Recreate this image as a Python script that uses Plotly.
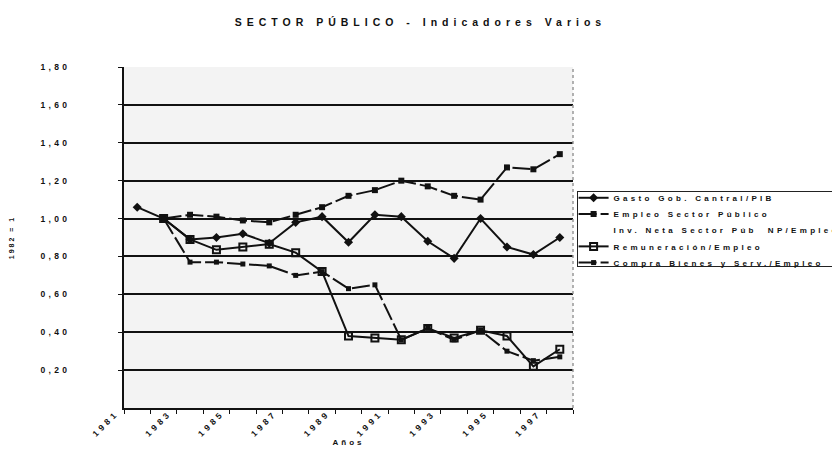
import plotly.graph_objects as go

years = list(range(1981, 1998))
gasto = [1.06, 1.00, 0.89, 0.90, 0.92, 0.87, 0.98, 1.01, 0.875, 1.02, 1.01, 0.88, 0.79, 1.00, 0.85, 0.81, 0.90]
empleo = [None, 1.00, 1.02, 1.01, 0.99, 0.98, 1.02, 1.06, 1.12, 1.15, 1.20, 1.17, 1.12, 1.10, 1.27, 1.26, 1.34]
inv_neta = [None] * 17
remuneracion = [None, 1.00, 0.89, 0.835, 0.85, 0.865, 0.82, 0.72, 0.38, 0.37, 0.36, 0.42, 0.37, 0.41, 0.38, 0.22, 0.31]
compra = [None, 1.00, 0.77, 0.77, 0.76, 0.75, 0.70, 0.72, 0.63, 0.65, 0.36, 0.42, 0.36, 0.41, 0.30, 0.25, 0.27]

series_names = ["Gasto Gob. Cantral/PIB", "Empleo Sector Público", "Inv. Neta Sector Púb  NP/Empleo",
                "Remuneración/Empleo", "Compra Bienes y Serv./Empleo"]

y_tickvals = [0.2, 0.4, 0.6, 0.8, 1.0, 1.2, 1.4, 1.6, 1.8]
y_ticktext = ["0,20", "0,40", "0,60", "0,80", "1,00", "1,20", "1,40", "1,60", "1,80"]
x_tickvals = [1981, 1983, 1985, 1987, 1989, 1991, 1993, 1995, 1997]

FONT = "Liberation Sans, Arial, sans-serif"
BLK = "#111111"

fig = go.Figure()
fig.add_trace(go.Scatter(x=years, y=gasto, name=series_names[0], mode="lines+markers",
                         line=dict(color=BLK, width=2),
                         marker=dict(symbol="diamond", size=7, color=BLK)))
fig.add_trace(go.Scatter(x=years, y=empleo, name=series_names[1], mode="lines+markers",
                         line=dict(color=BLK, width=2, dash="18px,4px"),
                         marker=dict(symbol="square", size=6, color=BLK)))
fig.add_trace(go.Scatter(x=years, y=inv_neta, name=series_names[2], mode="lines",
                         line=dict(color="rgba(0,0,0,0)", width=2)))
fig.add_trace(go.Scatter(x=years, y=remuneracion, name=series_names[3], mode="lines+markers",
                         line=dict(color=BLK, width=2),
                         marker=dict(symbol="square-open", size=7, color=BLK, line=dict(width=2, color=BLK))))
fig.add_trace(go.Scatter(x=years, y=compra, name=series_names[4], mode="lines+markers",
                         line=dict(color=BLK, width=2, dash="18px,4px"),
                         marker=dict(symbol="square", size=5, color=BLK)))

fig.update_layout(
    width=840, height=449,
    margin=dict(l=116, r=275, t=59, b=49, autoexpand=False),
    paper_bgcolor="white",
    plot_bgcolor="#f3f3f3",
    font=dict(family=FONT, color=BLK, weight="bold"),
    title=dict(text="SECTOR PÚBLICO - Indicadores Varios", x=0.491, xref="container",
               xanchor="center", y=0.968, yref="container", yanchor="middle",
               font=dict(size=10.5, family=FONT, weight="bold", color=BLK)),
    showlegend=True,
    legend=dict(x=1.008, xanchor="left", y=0.637, yanchor="top",
                bgcolor="rgba(255,255,255,0)", bordercolor="#222", borderwidth=1,
                font=dict(size=8, family=FONT, weight="bold", color=BLK),
                tracegroupgap=0),
    xaxis=dict(range=[1980.5, 1997.5], tickmode="array", tickvals=x_tickvals,
               ticktext=[str(v) for v in x_tickvals], tickangle=-45, ticks="", ticklabelshift=-21,
               ticklabelstandoff=-5,
               tickfont=dict(size=8.5, family=FONT, weight="bold"),
               showgrid=False, zeroline=False, showline=True, linecolor=BLK, linewidth=2,
               mirror=False,
               minor=dict(tickvals=[y + 0.5 for y in range(1980, 1998)], ticks="outside",
                          ticklen=4, tickcolor=BLK, tickwidth=1),
               title=dict(text="Años", standoff=12, font=dict(size=8, family=FONT, weight="bold"))),
    yaxis=dict(range=[0, 1.8], tickmode="array", tickvals=y_tickvals, ticktext=y_ticktext,
               ticks="outside", ticklen=4, tickcolor=BLK, ticklabelstandoff=46,
               tickfont=dict(size=8.5, family=FONT, weight="bold"),
               showgrid=True, gridcolor=BLK, gridwidth=2, zeroline=False,
               showline=True, linecolor=BLK, linewidth=2,
               title=dict(text="1982 = 1", standoff=40, font=dict(size=7, family=FONT, weight="bold"))),
    shapes=[dict(type="line", xref="paper", yref="paper", x0=1, x1=1, y0=0, y1=1,
                 line=dict(color="#999", width=1.5, dash="dot"))],
)

post = """
var s = document.createElement('style');
s.textContent = '.gtitle{letter-spacing:5px !important;} .ytick text{letter-spacing:3.3px !important;} ' +
 '.xtick text{letter-spacing:3.5px !important;} .legendtext{letter-spacing:3.3px !important;} ' +
 '.g-xtitle text{letter-spacing:3px !important;} .g-ytitle text{letter-spacing:2px !important;}';
document.head.appendChild(s);
var gd = document.getElementById('{plot_id}');
gd.querySelectorAll('.legend [clip-path]').forEach(function(e){ e.removeAttribute('clip-path'); });
var tr = gd.querySelectorAll('.legend .traces');
tr.forEach(function(t, i){
  var m = /translate\\(\\s*([-\\d.e]+)[ ,]+([-\\d.e]+)\\s*\\)/.exec(t.getAttribute('transform') || '');
  var x = m ? parseFloat(m[1]) : 0;
  t.setAttribute('transform', 'translate(' + (x - 4) + ',' + (7 + i * 16.2) + ')');
});
var bg = gd.querySelector('.legend .bg');
if (bg) { bg.setAttribute('height', 75); bg.setAttribute('width', 400); }
"""
fig.write_html("out.html", post_script=post)
